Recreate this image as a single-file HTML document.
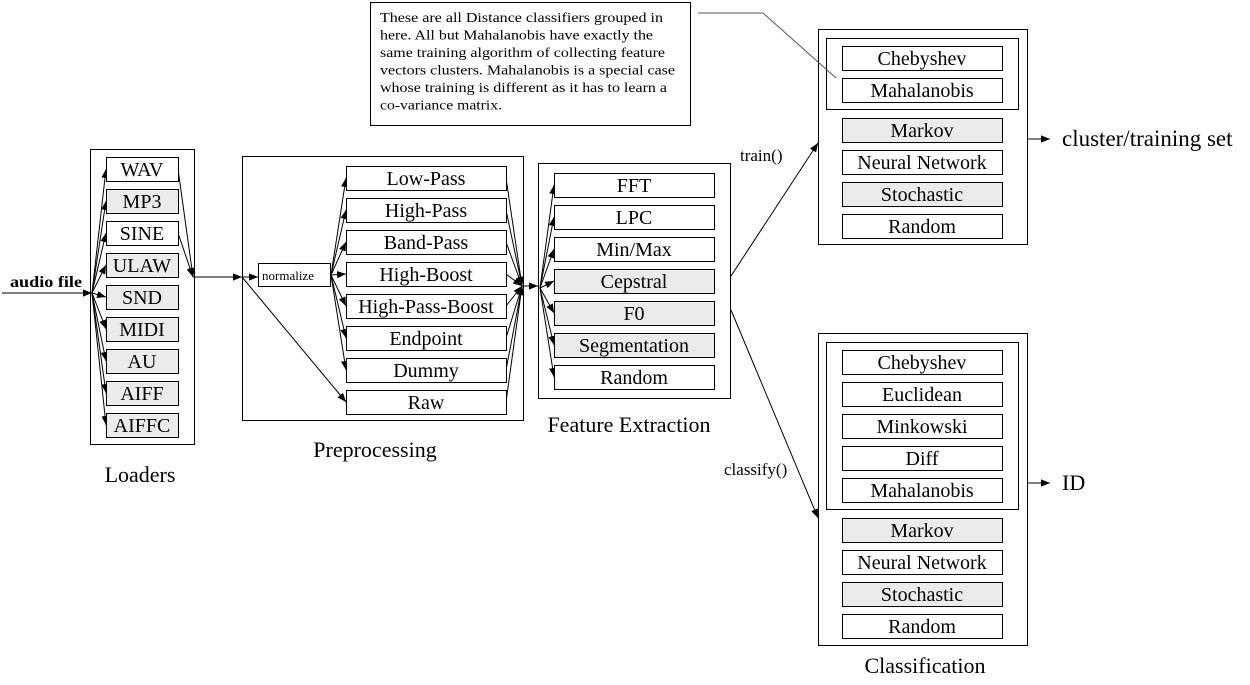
<!DOCTYPE html>
<html><head><style>body{margin:0;background:#fff}svg{display:block}text{font-family:"Liberation Serif",serif;fill:#000}</style></head>
<body>
<svg width="1250" height="685" viewBox="0 0 1250 685" xmlns="http://www.w3.org/2000/svg">
<defs><marker id="a" viewBox="0 0 10 10" refX="10" refY="5" markerWidth="9" markerHeight="9" markerUnits="userSpaceOnUse" orient="auto"><path d="M0,1L10,5L0,9z" fill="#000"/></marker></defs>
<g fill="none" stroke="#000" stroke-width="1">
<rect x="90.5" y="149.5" width="104" height="295"/>
<rect x="242.5" y="156.5" width="281" height="264"/>
<rect x="538.5" y="163.5" width="192" height="235"/>
<rect x="818.5" y="29.5" width="209" height="215"/>
<rect x="826.5" y="38.5" width="192" height="71"/>
<rect x="818.5" y="333.5" width="209" height="312"/>
<rect x="826.5" y="342.5" width="192" height="167"/>
<rect x="370.5" y="2.5" width="320" height="123"/>
<rect x="258.5" y="263.5" width="72" height="23"/>
</g>
<polyline points="698,13 763,13 836,78" fill="none" stroke="#555" stroke-width="1"/>
<g font-size="14" lengthAdjust="spacingAndGlyphs">
<text x="380" y="22" textLength="283" lengthAdjust="spacingAndGlyphs">These are all Distance classifiers grouped in</text>
<text x="380" y="39.5" textLength="273" lengthAdjust="spacingAndGlyphs">here. All but Mahalanobis have exactly the</text>
<text x="380" y="57" textLength="285" lengthAdjust="spacingAndGlyphs">same training algorithm of collecting feature</text>
<text x="380" y="74.5" textLength="295" lengthAdjust="spacingAndGlyphs">vectors clusters. Mahalanobis is a special case</text>
<text x="380" y="92" textLength="287" lengthAdjust="spacingAndGlyphs">whose training is different as it has to learn a</text>
<text x="380" y="109.5" textLength="122" lengthAdjust="spacingAndGlyphs">co-variance matrix.</text>
</g>
<g stroke="#000" stroke-width="1" fill="none" marker-end="url(#a)">
<line x1="2" y1="293" x2="92" y2="293"/>
<line x1="92" y1="293" x2="106" y2="169"/>
<line x1="92" y1="293" x2="106" y2="201"/>
<line x1="92" y1="293" x2="106" y2="233"/>
<line x1="92" y1="293" x2="106" y2="265"/>
<line x1="92" y1="293" x2="106" y2="297"/>
<line x1="92" y1="293" x2="106" y2="329"/>
<line x1="92" y1="293" x2="106" y2="361"/>
<line x1="92" y1="293" x2="106" y2="393"/>
<line x1="92" y1="293" x2="106" y2="425"/>
<line x1="178" y1="169" x2="193" y2="277"/>
<line x1="178" y1="233" x2="193" y2="277"/>
<line x1="193" y1="277" x2="242" y2="277"/>
<line x1="242" y1="277" x2="258" y2="277"/>
<line x1="242" y1="277" x2="346" y2="402"/>
<line x1="331" y1="275" x2="346" y2="178"/>
<line x1="331" y1="275" x2="346" y2="210"/>
<line x1="331" y1="275" x2="346" y2="242"/>
<line x1="331" y1="275" x2="346" y2="274"/>
<line x1="331" y1="275" x2="346" y2="306"/>
<line x1="331" y1="275" x2="346" y2="338"/>
<line x1="331" y1="275" x2="346" y2="370"/>
<line x1="506" y1="178" x2="522" y2="286"/>
<line x1="506" y1="210" x2="522" y2="286"/>
<line x1="506" y1="242" x2="522" y2="286"/>
<line x1="506" y1="274" x2="522" y2="286"/>
<line x1="506" y1="306" x2="522" y2="286"/>
<line x1="506" y1="338" x2="522" y2="286"/>
<line x1="506" y1="370" x2="522" y2="286"/>
<line x1="506" y1="402" x2="522" y2="286"/>
<line x1="522" y1="286" x2="538" y2="286"/>
<line x1="540" y1="288" x2="554" y2="185"/>
<line x1="540" y1="288" x2="554" y2="217"/>
<line x1="540" y1="288" x2="554" y2="249"/>
<line x1="540" y1="288" x2="554" y2="281"/>
<line x1="540" y1="288" x2="554" y2="313"/>
<line x1="540" y1="288" x2="554" y2="345"/>
<line x1="540" y1="288" x2="554" y2="377"/>
<line x1="731" y1="276" x2="818" y2="143"/>
<line x1="731" y1="310" x2="818" y2="518"/>
<line x1="1027" y1="139" x2="1050" y2="139"/>
<line x1="1027" y1="483" x2="1050" y2="483"/>
</g>
<g stroke="#000" stroke-width="1">
<rect x="106.5" y="157.5" width="72" height="24" fill="#fff"/>
<rect x="106.5" y="189.5" width="72" height="24" fill="#ebebeb"/>
<rect x="106.5" y="221.5" width="72" height="24" fill="#fff"/>
<rect x="106.5" y="253.5" width="72" height="24" fill="#ebebeb"/>
<rect x="106.5" y="285.5" width="72" height="24" fill="#ebebeb"/>
<rect x="106.5" y="317.5" width="72" height="24" fill="#ebebeb"/>
<rect x="106.5" y="349.5" width="72" height="24" fill="#ebebeb"/>
<rect x="106.5" y="381.5" width="72" height="24" fill="#ebebeb"/>
<rect x="106.5" y="413.5" width="72" height="24" fill="#ebebeb"/>
<g fill="#fff">
<rect x="346.5" y="166.5" width="160" height="24"/>
<rect x="346.5" y="198.5" width="160" height="24"/>
<rect x="346.5" y="230.5" width="160" height="24"/>
<rect x="346.5" y="262.5" width="160" height="24"/>
<rect x="346.5" y="294.5" width="160" height="24"/>
<rect x="346.5" y="326.5" width="160" height="24"/>
<rect x="346.5" y="358.5" width="160" height="24"/>
<rect x="346.5" y="390.5" width="160" height="24"/>
<rect x="554.5" y="173.5" width="160" height="24"/>
<rect x="554.5" y="205.5" width="160" height="24"/>
<rect x="554.5" y="237.5" width="160" height="24"/>
<rect x="554.5" y="365.5" width="160" height="24"/>
<rect x="842.5" y="46.5" width="160" height="24"/>
<rect x="842.5" y="78.5" width="160" height="24"/>
<rect x="842.5" y="150.5" width="160" height="24"/>
<rect x="842.5" y="214.5" width="160" height="24"/>
<rect x="842.5" y="350.5" width="160" height="24"/>
<rect x="842.5" y="382.5" width="160" height="24"/>
<rect x="842.5" y="414.5" width="160" height="24"/>
<rect x="842.5" y="446.5" width="160" height="24"/>
<rect x="842.5" y="478.5" width="160" height="24"/>
<rect x="842.5" y="550.5" width="160" height="24"/>
<rect x="842.5" y="614.5" width="160" height="24"/>
</g>
<g fill="#ebebeb">
<rect x="554.5" y="269.5" width="160" height="24"/>
<rect x="554.5" y="301.5" width="160" height="24"/>
<rect x="554.5" y="333.5" width="160" height="24"/>
<rect x="842.5" y="118.5" width="160" height="24"/>
<rect x="842.5" y="182.5" width="160" height="24"/>
<rect x="842.5" y="518.5" width="160" height="24"/>
<rect x="842.5" y="582.5" width="160" height="24"/>
</g>
</g>
<g font-size="20" text-anchor="middle">
<text x="142" y="176">WAV</text><text x="142" y="208">MP3</text><text x="142" y="240">SINE</text>
<text x="142" y="272">ULAW</text><text x="142" y="304">SND</text><text x="142" y="336">MIDI</text>
<text x="142" y="368">AU</text><text x="142" y="400">AIFF</text><text x="142" y="432">AIFFC</text>
<text x="426" y="185">Low-Pass</text><text x="426" y="217">High-Pass</text><text x="426" y="249">Band-Pass</text>
<text x="426" y="281">High-Boost</text><text x="426" y="313">High-Pass-Boost</text><text x="426" y="345">Endpoint</text>
<text x="426" y="377">Dummy</text><text x="426" y="409">Raw</text>
<text x="634" y="192">FFT</text><text x="634" y="224">LPC</text><text x="634" y="256">Min/Max</text>
<text x="634" y="288">Cepstral</text><text x="634" y="320">F0</text><text x="634" y="352">Segmentation</text><text x="634" y="384">Random</text>
<text x="922" y="65">Chebyshev</text><text x="922" y="97">Mahalanobis</text>
<text x="922" y="137">Markov</text><text x="922" y="169">Neural Network</text><text x="922" y="201">Stochastic</text><text x="922" y="233">Random</text>
<text x="922" y="369">Chebyshev</text><text x="922" y="401">Euclidean</text><text x="922" y="433">Minkowski</text>
<text x="922" y="465">Diff</text><text x="922" y="497">Mahalanobis</text>
<text x="922" y="537">Markov</text><text x="922" y="569">Neural Network</text><text x="922" y="601">Stochastic</text><text x="922" y="633">Random</text>
</g>
<g font-size="22" text-anchor="middle">
<text x="140" y="482">Loaders</text>
<text x="375" y="457">Preprocessing</text>
<text x="629" y="432">Feature Extraction</text>
<text x="925" y="673">Classification</text>
</g>
<text x="1062" y="146" font-size="23">cluster/training set</text>
<text x="1062" y="490" font-size="22">ID</text>
<text x="262" y="280" font-size="13">normalize</text>
<text x="10" y="287" font-size="16" font-weight="bold" textLength="72" lengthAdjust="spacingAndGlyphs">audio file</text>
<text x="740" y="161" font-size="17">train()</text>
<text x="724" y="475" font-size="17">classify()</text>
</svg>
</body></html>
